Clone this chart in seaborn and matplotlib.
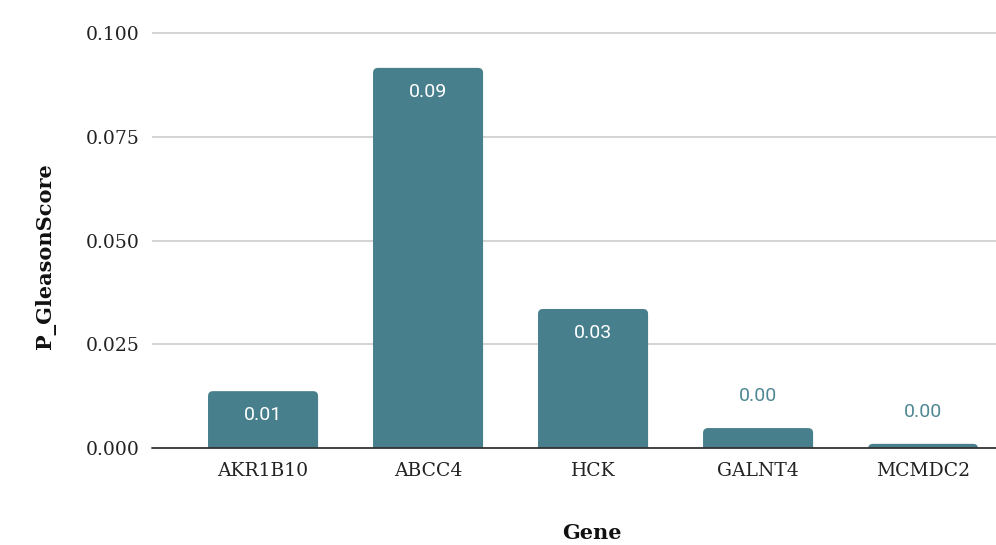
import matplotlib
matplotlib.use("Agg")
import matplotlib.pyplot as plt
from matplotlib.patches import FancyBboxPatch
import seaborn as sns
import pandas as pd

# Data
genes = ["AKR1B10", "ABCC4", "HCK", "GALNT4", "MCMDC2"]
p_gleason = [0.0137, 0.0916, 0.0335, 0.0048, 0.0010]
y_ticks = [0.000, 0.025, 0.050, 0.075, 0.100]
y_tick_labels = ["0.000", "0.025", "0.050", "0.075", "0.100"]

BAR = "#477f8c"
serif = ["DejaVu Serif"]

df = pd.DataFrame({"Gene": genes, "P_GleasonScore": p_gleason})

sns.set_theme(style="white")
fig = plt.figure(figsize=(9.96, 5.45), dpi=100)
ax = fig.add_axes([152 / 996, 97 / 545, 844 / 996, 429.5 / 545])

sns.barplot(data=df, x="Gene", y="P_GleasonScore", color=BAR, width=0.667,
            saturation=1, ax=ax, zorder=3)

ax.set_ylim(0, 0.1035)
ax.set_xlim(-0.673, 4.442)

# Replace plain rectangles with top-rounded bars
px_x = 844 / (4.442 + 0.673)      # pixels per category unit
px_y = 429.5 / 0.1035             # pixels per data unit
r_x = 5 / px_x
aspect = (5 / px_y) / r_x
for p in list(ax.patches):
    x0, w, h = p.get_x(), p.get_width(), p.get_height()
    p.remove()
    ext = 8 / px_y
    fb = FancyBboxPatch((x0, -ext), w, h + ext,
                        boxstyle=f"round,pad=0,rounding_size={r_x}",
                        mutation_aspect=aspect, facecolor=BAR,
                        edgecolor="none", zorder=3, clip_on=True)
    ax.add_patch(fb)

# Value labels
for i, v in enumerate(p_gleason):
    txt = f"{v:.2f}"
    if v > 0.01:
        ax.annotate(txt, (i, v), xytext=(0, -17.5), textcoords="offset points",
                    ha="center", va="center", color="white", fontsize=14,
                    family="Roboto", zorder=4)
    else:
        ax.annotate(txt, (i, v), xytext=(0, 23), textcoords="offset points",
                    ha="center", va="center", color="#4f8894", fontsize=14,
                    family="Roboto", zorder=4)

# Grid and baseline
for t in y_ticks[1:]:
    ax.axhline(t, color="#cccccc", lw=1.2, zorder=1)
ax.axhline(0, color="#333333", lw=1.3, zorder=5, clip_on=False)

for s in ax.spines.values():
    s.set_visible(False)

ax.set_yticks(y_ticks)
ax.set_yticklabels(y_tick_labels, family=serif, fontsize=13.5, color="#222222")
ax.tick_params(axis="y", length=0, pad=9)
ax.tick_params(axis="x", length=0, pad=10)
for lab in ax.get_xticklabels():
    lab.set_family(serif)
    lab.set_fontsize(13.5)
    lab.set_color("#222222")

ax.set_xlabel("Gene", family=serif, fontsize=15, fontweight="bold", color="#111111")
ax.set_ylabel("P_GleasonScore", family=serif, fontsize=15, fontweight="bold",
              color="#111111")
ax.xaxis.set_label_coords((592 - 152) / 844, -(533 - 448) / 429.5)
ax.xaxis.label.set_va("center")
ax.yaxis.set_label_coords((45 - 152) / 844, (448 - 256) / 429.5)
ax.yaxis.label.set_va("center")

fig.savefig("out.png", dpi=100, facecolor="white")
